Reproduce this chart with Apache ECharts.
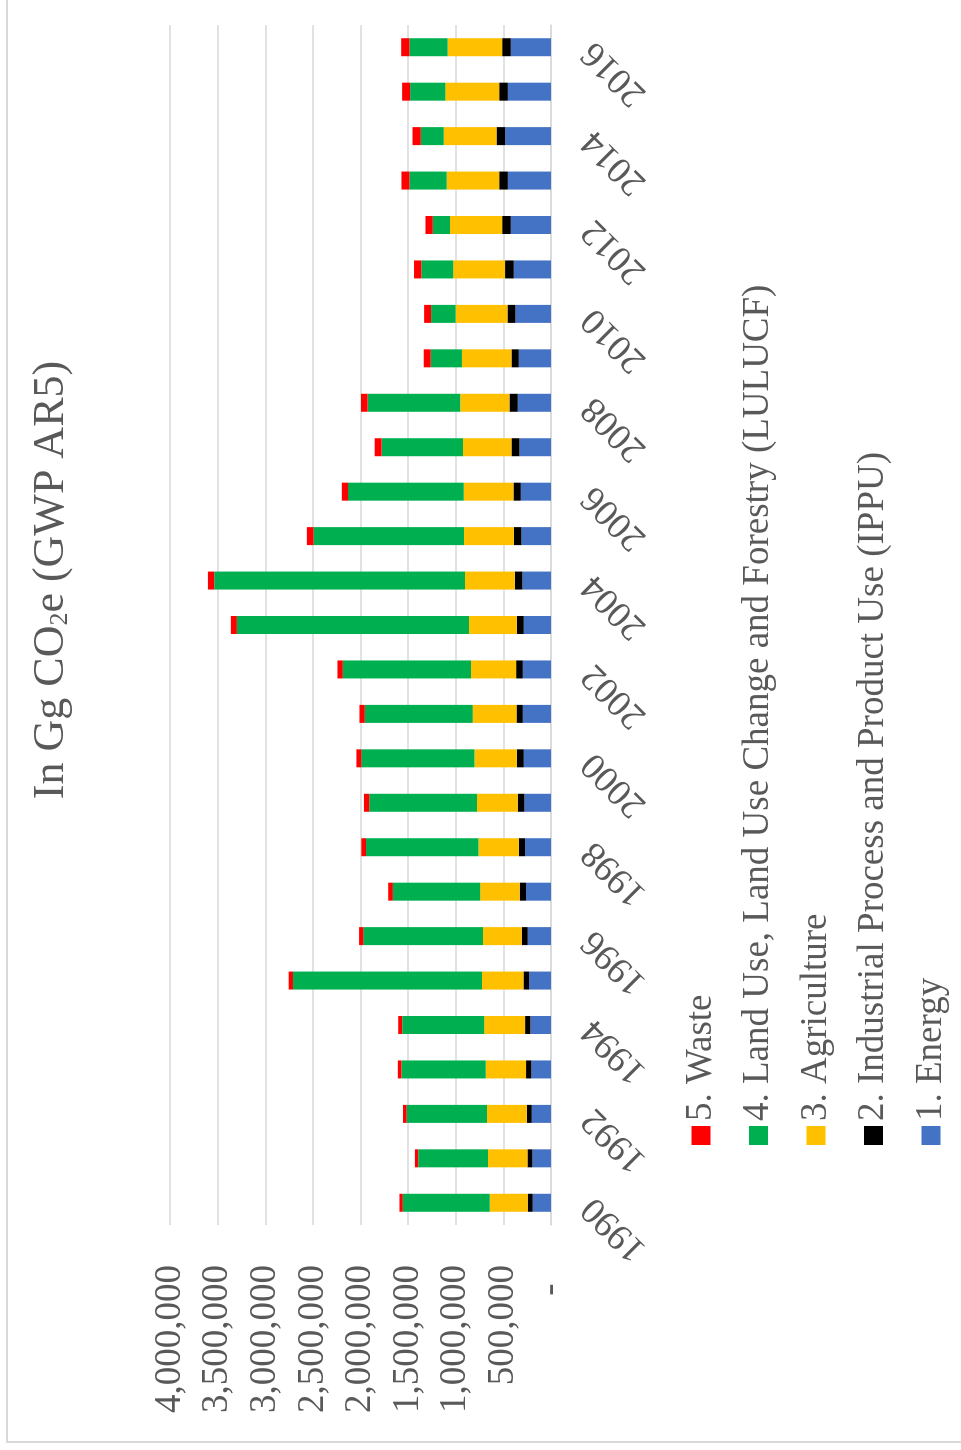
<!DOCTYPE html>
<html>
<head>
<meta charset="utf-8">
<script src="https://cdn.jsdelivr.net/npm/echarts@6/dist/echarts.min.js"></script>
<style>
  html, body { margin: 0; padding: 0; background: #fff; }
  body { width: 961px; height: 1450px; position: relative; overflow: hidden; }
  /* chart is drawn landscape then turned a quarter left */
  #turn {
    position: absolute; left: 0; top: 1450px;
    width: 1450px; height: 961px;
    transform-origin: 0 0; transform: rotate(-90deg);
  }
  #main { width: 1450px; height: 961px; }
  .frame { position: absolute; background: #d9d9d9; }
</style>
</head>
<body>
<div id="turn"><div id="main"></div></div>
<div class="frame" style="left:6px;top:0;width:2px;height:1443px;"></div>
<div class="frame" style="left:6px;top:1441px;width:955px;height:2px;"></div>
<script>
// data (Gg CO2e), 1990..2016
var years = ["1990","1991","1992","1993","1994","1995","1996","1997","1998","1999",
  "2000","2001","2002","2003","2004","2005","2006","2007","2008","2009",
  "2010","2011","2012","2013","2014","2015","2016"];
var energy = [192000,195000,202000,206000,216000,230000,244000,262000,272000,279000,
  286000,296000,296000,286000,300000,310000,317000,331000,349000,338000,
  373000,391000,422000,453000,481000,453000,422000];
var ippu = [52000,52000,52000,56000,56000,59000,63000,66000,66000,70000,
  73000,66000,70000,73000,80000,80000,77000,84000,87000,77000,
  84000,91000,91000,91000,91000,91000,91000];
var agriculture = [398000,415000,418000,422000,429000,436000,408000,415000,422000,429000,
  443000,460000,474000,502000,523000,523000,523000,509000,516000,520000,
  544000,544000,547000,551000,554000,565000,572000];
var lulucf = [914000,732000,844000,886000,861000,1984000,1255000,917000,1182000,1130000,
  1189000,1133000,1346000,2437000,2633000,1580000,1213000,854000,973000,328000,
  258000,335000,181000,391000,241000,370000,401000];
var waste = [35000,35000,38000,38000,42000,45000,45000,49000,49000,56000,
  52000,56000,56000,63000,66000,70000,66000,73000,70000,73000,
  73000,77000,77000,84000,87000,84000,87000];
var seriesNames = ["1. Energy", "2. Industrial Process and Product Use (IPPU)",
  "3. Agriculture", "4. Land Use, Land Use Change and Forestry (LULUCF)", "5. Waste"];
var colors = ["#4472C4", "#000000", "#FFC000", "#00B050", "#FF0000"];

var font = "'Liberation Serif', 'Times New Roman', serif";
var chart = echarts.init(document.getElementById("main"));
var values = [energy, ippu, agriculture, lulucf, waste];

var series = values.map(function (v, i) {
  return {
    name: seriesNames[i],
    type: "bar",
    stack: "total",
    barWidth: 18,
    itemStyle: { color: colors[i] },
    data: v
  };
});

var option = {
  animation: false,
  title: {
    text: "In Gg CO{sub|2}e (GWP AR5)",
    left: 865,
    top: 24,
    textAlign: "center",
    textStyle: {
      fontFamily: font,
      fontSize: 44,
      fontWeight: "normal",
      color: "#595959",
      rich: {
        sub: { fontFamily: font, fontSize: 26, color: "#595959", verticalAlign: "bottom", padding: [16, 0, 0, 0] }
      }
    }
  },
  legend: {
    orient: "vertical",
    left: 300,
    top: 677,
    icon: "rect",
    itemWidth: 19,
    itemHeight: 19,
    itemGap: 19.5,
    data: seriesNames.slice().reverse(),
    textStyle: { fontFamily: font, fontSize: 37, lineHeight: 38, color: "#595959" }
  },
  grid: { left: 225, right: 25, top: 170, bottom: 410 },
  xAxis: {
    type: "category",
    data: years,
    axisTick: { show: false },
    axisLine: { show: true, lineStyle: { color: "#d9d9d9", width: 1.5 } },
    axisLabel: {
      interval: 1,
      rotate: 45,
      margin: 37,
      fontFamily: font,
      fontSize: 37,
      color: "#595959"
    }
  },
  yAxis: {
    type: "value",
    min: 0,
    max: 4000000,
    interval: 500000,
    axisLine: { show: false },
    axisTick: { show: false },
    splitLine: { lineStyle: { color: "#d9d9d9", width: 1.5 } },
    axisLabel: {
      margin: 40,
      fontFamily: font,
      fontSize: 37,
      color: "#595959",
      formatter: function (v) {
        if (v === 0) return "-\u00a0\u00a0";
        return v.toLocaleString("en-US");
      }
    }
  },
  series: series
};
chart.setOption(option);
</script>
</body>
</html>
